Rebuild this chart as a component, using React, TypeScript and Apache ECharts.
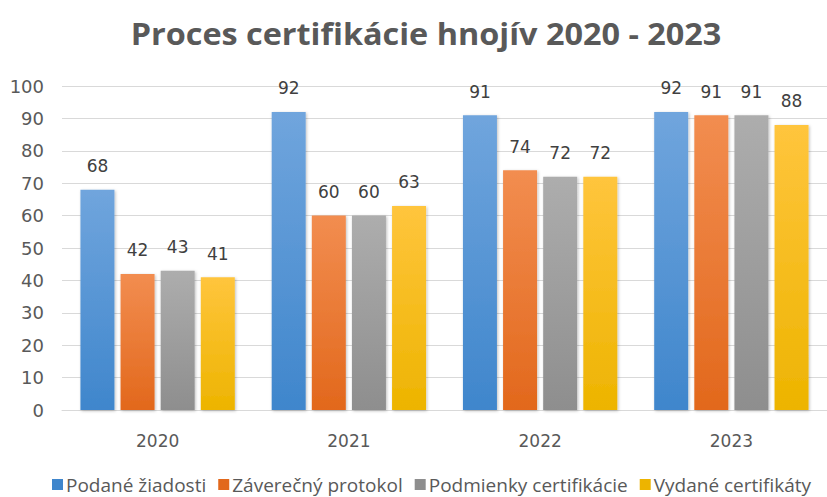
import React, { useEffect, useRef } from "react";
import * as echarts from "echarts";

const categories = ["2020", "2021", "2022", "2023"];
const seriesNames = ["Podané žiadosti", "Záverečný protokol", "Podmienky certifikácie", "Vydané certifikáty"];
const podane = [68, 92, 91, 92];
const zaverecny = [42, 60, 74, 91];
const podmienky = [43, 60, 72, 91];
const vydane = [41, 63, 72, 88];
const yTicks = { min: 0, max: 100, interval: 10 };
const titleText = "Proces certifikácie hnojív 2020 - 2023";

const colors: [string, string][] = [
  ["#70a5dd", "#3f86cc"],
  ["#f28d50", "#e2681c"],
  ["#adadad", "#8e8e8e"],
  ["#ffc53d", "#edb400"],
];

export default function App() {
  const ref = useRef<HTMLDivElement>(null);
  useEffect(() => {
    const chart = echarts.init(ref.current!, undefined, { renderer: "svg" });
    const data = [podane, zaverecny, podmienky, vydane];
    const font = "'Open Sans', 'Noto Sans', sans-serif";
    const numFont = "'DejaVu Sans', sans-serif";
    chart.setOption({
      animation: false,
      textStyle: { fontFamily: font },
      graphic: [
        {
          type: "text",
          x: 426,
          y: 33,
          scaleX: 1.08,
          style: {
            text: titleText,
            fontSize: 30,
            fontWeight: "bold",
            fill: "#595959",
            fontFamily: font,
            align: "center",
            verticalAlign: "middle",
          },
        },
      ],
      legend: {
        data: seriesNames.map((n, i) => ({ name: n, itemStyle: { color: colors[i][1] } })),
        left: 47,
        top: 470,
        itemWidth: 11,
        itemHeight: 11,
        itemGap: 12,
        icon: "rect",
        textStyle: { fontSize: 19, color: "#595959", fontFamily: font, padding: [0, 0, 0, -2] },
      },
      grid: { left: 62, top: 86, width: 776, height: 324, containLabel: false },
      xAxis: {
        type: "category",
        data: categories,
        axisTick: { show: false },
        axisLine: { lineStyle: { color: "#d9d9d9", width: 1 } },
        axisLabel: { fontSize: 17, color: "#595959", margin: 22, fontFamily: numFont },
      },
      yAxis: {
        type: "value",
        min: yTicks.min,
        max: yTicks.max,
        interval: yTicks.interval,
        axisLine: { show: false },
        axisTick: { show: false },
        splitLine: { lineStyle: { color: "#d9d9d9", width: 1 } },
        axisLabel: { fontSize: 18, color: "#595959", margin: 18, fontFamily: numFont },
      },
      series: seriesNames.map((name, i) => ({
        name,
        type: "bar",
        data: data[i],
        barWidth: 34,
        barGap: "18%",
        itemStyle: {
          color: new echarts.graphic.LinearGradient(0, 0, 0, 1, [
            { offset: 0, color: colors[i][0] },
            { offset: 1, color: colors[i][1] },
          ]),
          shadowColor: "rgba(0,0,0,0.25)",
          shadowBlur: 3,
          shadowOffsetX: 1,
          shadowOffsetY: 1,
        },
        label: {
          show: true,
          position: "top",
          distance: 15,
          fontSize: 17,
          color: "#404040",
          fontFamily: numFont,
        },
      })),
    });
    return () => chart.dispose();
  }, []);
  return (
    <div
      ref={ref}
      style={{ position: "fixed", left: 0, top: 0, width: 827, height: 497, background: "#fff" }}
    />
  );
}
